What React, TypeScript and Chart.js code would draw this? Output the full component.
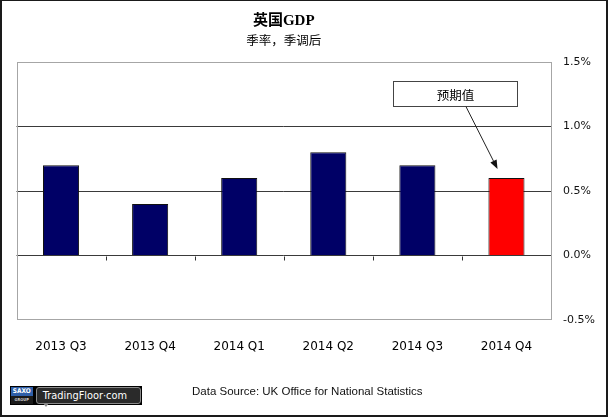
import { useEffect, useRef } from 'react';
import { Chart, registerables } from 'chart.js';

Chart.register(...registerables);

// ---- data ----
const categories = ['2013 Q3', '2013 Q4', '2014 Q1', '2014 Q2', '2014 Q3', '2014 Q4'];
const gdpQoQ = [0.7, 0.4, 0.6, 0.8, 0.7, 0.6];
const barColors = ['#000066', '#000066', '#000066', '#000066', '#000066', '#ff0000'];
const yMin = -0.5;
const yMax = 1.5;
const yStep = 0.5;
const titleText = '英国GDP';
const subtitleText = '季率，季调后';
const noteText = '预期值';
const sourceText = 'Data Source: UK Office for National Statistics';

// annotation placement (in data units of the chart's scales)
const note = { x: 4.42, y: 1.255, w: 124, h: 25, fromX: 4.545, toX: 4.9, toY: 0.67 };

const framePlugin = {
  id: 'frame',
  beforeDatasetsDraw(chart: any) {
    const { ctx, chartArea: a, scales } = chart;
    ctx.save();
    ctx.strokeStyle = '#a6a6a6';
    ctx.lineWidth = 1;
    ctx.strokeRect(Math.round(a.left) + 0.5, Math.round(a.top) + 0.5, Math.round(a.right - a.left) - 1, Math.round(a.bottom - a.top) - 1);
    const xs = scales.x;
    const ys = scales.y;
    const y0 = Math.round(ys.getPixelForValue(0)) + 0.5;
    ctx.strokeStyle = '#333';
    ctx.beginPath();
    for (let i = 0; i < categories.length - 1; i++) {
      const px = Math.round(xs.getPixelForValue(i + 0.5)) + 0.5;
      ctx.moveTo(px, y0);
      ctx.lineTo(px, y0 + 4);
    }
    ctx.stroke();
    ctx.restore();
  },
};

const notePlugin = {
  id: 'note',
  afterDatasetsDraw(chart: any) {
    const { ctx, scales } = chart;
    const xs = scales.x;
    const ys = scales.y;
    const cx = xs.getPixelForValue(note.x);
    const cy = ys.getPixelForValue(note.y);
    const left = Math.round(cx - note.w / 2) + 0.5;
    const top = Math.round(cy - note.h / 2) + 0.5;
    ctx.save();
    ctx.fillStyle = '#ffffff';
    ctx.strokeStyle = '#444';
    ctx.lineWidth = 1;
    ctx.fillRect(left, top, note.w, note.h);
    ctx.strokeRect(left, top, note.w, note.h);
    ctx.fillStyle = '#000';
    ctx.font = "12.5px 'Noto Sans CJK SC', sans-serif";
    ctx.textAlign = 'center';
    ctx.textBaseline = 'middle';
    ctx.fillText(noteText, left + note.w / 2, top + note.h / 2 + 1);

    // arrow
    const sx = xs.getPixelForValue(note.fromX);
    const sy = top + note.h;
    const tx = xs.getPixelForValue(note.toX);
    const ty = ys.getPixelForValue(note.toY);
    const ang = Math.atan2(ty - sy, tx - sx);
    const hl = 9;
    const hw = 3.5;
    const bx = tx - hl * Math.cos(ang);
    const by = ty - hl * Math.sin(ang);
    ctx.strokeStyle = '#222';
    ctx.beginPath();
    ctx.moveTo(sx, sy);
    ctx.lineTo(bx, by);
    ctx.stroke();
    ctx.fillStyle = '#111';
    ctx.beginPath();
    ctx.moveTo(tx, ty);
    ctx.lineTo(bx + hw * Math.sin(ang), by - hw * Math.cos(ang));
    ctx.lineTo(bx - hw * Math.sin(ang), by + hw * Math.cos(ang));
    ctx.closePath();
    ctx.fill();
    ctx.restore();
  },
};

export default function App() {
  const canvasRef = useRef<HTMLCanvasElement | null>(null);

  useEffect(() => {
    document.body.style.margin = '0';
    const canvas = canvasRef.current;
    if (!canvas) return;
    const chart = new Chart(canvas, {
      type: 'bar',
      data: {
        labels: categories,
        datasets: [
          {
            data: gdpQoQ,
            backgroundColor: barColors,
            borderColor: '#111',
            borderWidth: 1,
            barPercentage: 0.405,
            categoryPercentage: 1,
          },
        ],
      },
      options: {
        animation: false,
        responsive: false,
        maintainAspectRatio: false,
        layout: { padding: { left: 14.5, right: 0, top: 0, bottom: 0 } },
        plugins: {
          legend: { display: false },
          tooltip: { enabled: false },
          title: {
            display: true,
            text: titleText,
            fullSize: false,
            color: '#000',
            font: { family: "'Liberation Serif', 'Noto Sans CJK SC', serif", size: 15, weight: 'bold', lineHeight: 1.2 },
            padding: { top: 11, bottom: 0 },
          },
          subtitle: {
            display: true,
            text: subtitleText,
            fullSize: false,
            color: '#000',
            font: { family: "'Noto Sans CJK SC', sans-serif", size: 12.5, lineHeight: 1.2 },
            padding: { top: 3, bottom: 14 },
          },
        },
        scales: {
          x: {
            type: 'category',
            grid: { display: false },
            border: { display: false },
            ticks: {
              color: '#000',
              font: { family: "'DejaVu Sans', sans-serif", size: 12 },
              padding: 12,
              maxRotation: 0,
              autoSkip: false,
            },
            afterFit(scale: any) {
              scale.height = 95;
            },
          },
          y: {
            type: 'linear',
            position: 'right',
            min: yMin,
            max: yMax,
            grid: {
              drawTicks: false,
              lineWidth: 1,
              color: (c: any) => {
                const v = c.tick ? c.tick.value : null;
                return v === yMin || v === yMax ? 'rgba(0,0,0,0)' : '#3a3a3a';
              },
            },
            border: { display: false },
            ticks: {
              stepSize: yStep,
              color: '#111',
              font: { family: "'DejaVu Sans', sans-serif", size: 11 },
              padding: 12,
              callback: (v: any) => Number(v).toFixed(1) + '%',
            },
            afterFit(scale: any) {
              scale.width = 55;
            },
          },
        },
      },
      plugins: [framePlugin, notePlugin],
    } as any);
    return () => chart.destroy();
  }, []);

  return (
    <div
      style={{
        position: 'relative',
        width: 608,
        height: 417,
        boxSizing: 'border-box',
        borderStyle: 'solid',
        borderColor: '#1a1a1a',
        borderWidth: '1px 2px 2px 2px',
        background: '#fff',
        overflow: 'hidden',
      }}
    >
      <canvas ref={canvasRef} width={604} height={414} style={{ position: 'absolute', left: 0, top: 0, width: 604, height: 414 }} />
      <div
        style={{
          position: 'absolute',
          left: 7.7,
          top: 384.7,
          width: 132,
          height: 19.5,
          background: '#000',
          display: 'flex',
          alignItems: 'stretch',
          padding: 1,
          boxSizing: 'border-box',
        }}
      >
        <div
          style={{
            width: 22,
            display: 'flex',
            flexDirection: 'column',
            fontFamily: "'DejaVu Sans Condensed', 'DejaVu Sans', sans-serif",
            fontWeight: 'bold',
            overflow: 'hidden',
          }}
        >
          <div style={{ height: 9, background: '#2f5fa8', color: '#fff', fontSize: 6.5, lineHeight: '9px', textAlign: 'center' }}>SAXO</div>
          <div style={{ flex: 1, background: '#1b1b1b', color: '#ccc', fontSize: 4, lineHeight: '8px', textAlign: 'center' }}>GROUP</div>
        </div>
        <div
          style={{
            position: 'relative',
            marginLeft: 3,
            flex: 1,
            background: '#2a2a2a',
            border: '1px solid #8a8a8a',
            borderRadius: 3,
            color: '#fff',
            fontFamily: "'DejaVu Sans', sans-serif",
            fontSize: 9.8,
            lineHeight: '15px',
            paddingLeft: 6,
            whiteSpace: 'nowrap',
          }}
        >
          TradingFloor·com
          <div
            style={{
              position: 'absolute',
              left: 6,
              bottom: -4,
              width: 0,
              height: 0,
              borderLeft: '3px solid transparent',
              borderRight: '3px solid transparent',
              borderTop: '4px solid #8a8a8a',
            }}
          />
        </div>
      </div>
      <div
        style={{
          position: 'absolute',
          left: 190,
          top: 385.3,
          fontFamily: "'Liberation Sans', Arial, sans-serif",
          fontSize: 11.5,
          lineHeight: '11.5px',
          color: '#111',
          whiteSpace: 'nowrap',
        }}
      >
        {sourceText}
      </div>
    </div>
  );
}
